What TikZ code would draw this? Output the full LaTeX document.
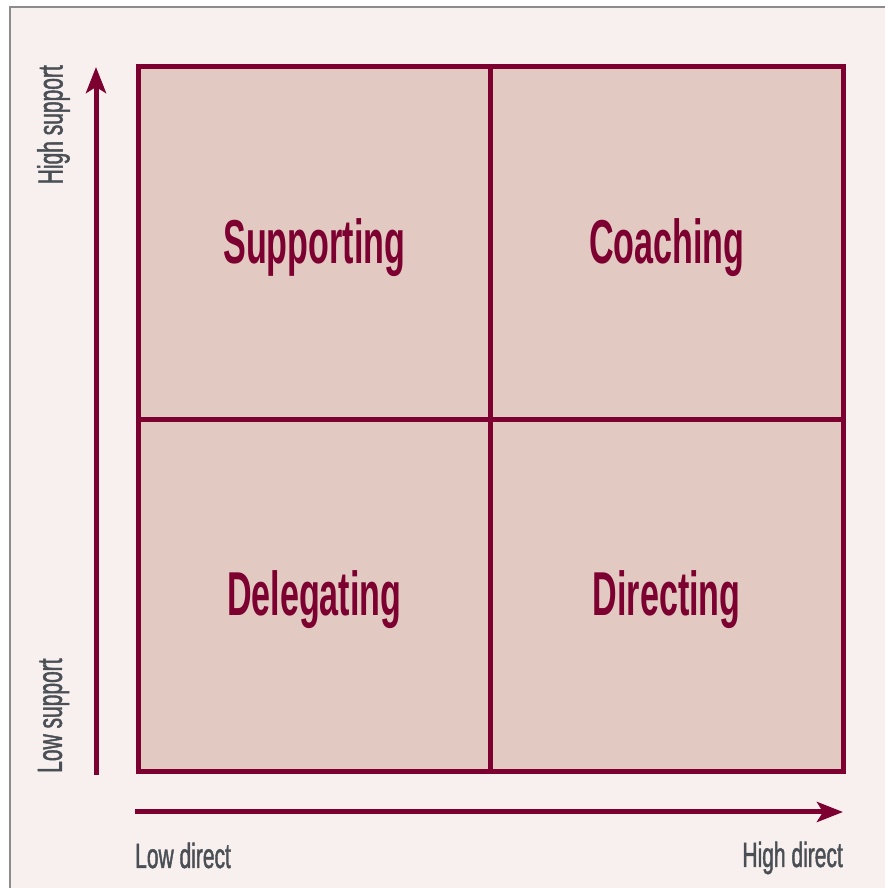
\documentclass[tikz,border=0pt]{standalone}
\usepackage{fontspec}
\newfontfamily\condfont[FakeStretch=0.6,FakeBold=1.2]{Liberation Sans}
\newfontfamily\quadfont[FakeStretch=0.55]{Liberation Sans}
\usetikzlibrary{arrows.meta}
\definecolor{pagebg}{RGB}{248,240,239}
\definecolor{cellfill}{RGB}{226,201,194}
\definecolor{wine}{RGB}{124,0,48}
\definecolor{labelgrey}{RGB}{74,79,85}
\definecolor{framegrey}{RGB}{140,140,140}
\begin{document}
\begin{tikzpicture}[x=1pt,y=1pt,
		cell/.style={draw=wine,fill=cellfill,line width=5pt,minimum size=352.5pt,inner sep=0pt,
			text height=53pt,text depth=13pt,
			text=wine,font=\quadfont\bfseries\fontsize{62}{70}\selectfont},
		axis/.style={draw=wine,line width=5pt,-{Stealth[length=26pt,width=20pt,inset=6pt]}},
		axislabel/.style={text=labelgrey,inner sep=0pt,font=\condfont\fontsize{35}{40}\selectfont}]
	\useasboundingbox (0,0) rectangle (884,888);
	\fill[white] (0,0) rectangle (884,888);
	\draw[framegrey,fill=pagebg,line width=1.5pt] (10,-10) rectangle (900,881);
	% quadrants
	\node[cell] (supporting) at (314.25,644.75) {Supporting};
	\node[cell] (coaching) at (666.75,644.75) {Coaching};
	\node[cell] (delegating) at (314.25,292.25) {Delegating};
	\node[cell] (directing) at (666.75,292.25) {Directing};
	% axes
	\coordinate (ybot) at (96,113);
	\coordinate (ytop) at (96,821);
	\coordinate (xleft) at (135,76);
	\coordinate (xright) at (843,76);
	\draw[axis] (ybot) -- (ytop);
	\draw[axis] (xleft) -- (xright);
	\node[axislabel,rotate=90,anchor=east] (highsupport) at (53.5,823) {High support};
	\node[axislabel,rotate=90,anchor=west] (lowsupport) at (53.5,115) {Low support};
	\node[axislabel,anchor=base west] (lowdirect) at (135,20) {Low direct};
	\node[axislabel,anchor=base east] (highdirect) at (843,21) {High direct};
\end{tikzpicture}
\end{document}
